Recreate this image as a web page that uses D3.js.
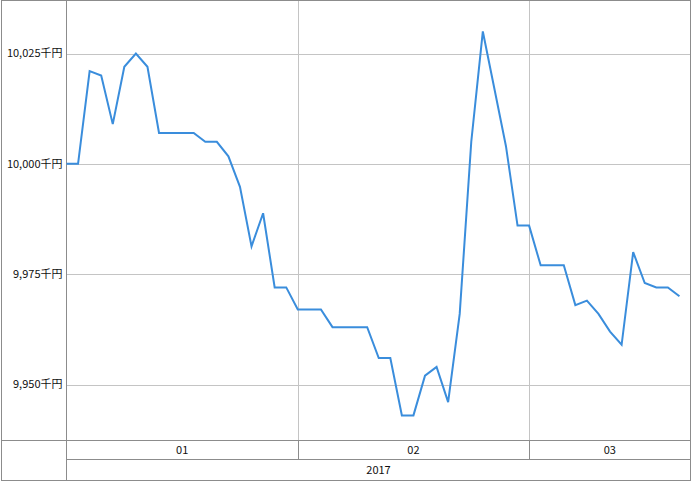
<!DOCTYPE html>
<html>
<head>
<meta charset="utf-8">
<script src="https://cdn.jsdelivr.net/npm/d3@7"></script>
<style>
  body { margin: 0; background: #fff; }
  svg { display: block; }
  text { font-family: "MS UI Gothic", "Noto Sans CJK JP", sans-serif; font-size: 11px; fill: #111; }
</style>
</head>
<body>
<svg></svg>
<script>
var width = 691;
var height = 482;

// daily values, 2017-01 .. 2017-03
var values = [
  10000, 10000, 10021, 10020, 10009, 10022, 10025, 10022, 10007, 10007,
  10007, 10007, 10005, 10005, 10001.7, 9994.8, 9981.3, 9988.8, 9972, 9972,
  9967, 9967, 9967, 9963, 9963, 9963, 9963, 9956, 9956, 9943,
  9943, 9952, 9954, 9946, 9966, 10005, 10030, 10017, 10004, 9986,
  9986, 9977, 9977, 9977, 9968, 9969, 9966, 9962, 9959, 9980,
  9973, 9972, 9972, 9970
];
var monthLabels = ["01", "02", "03"];
var monthStarts = [0, 20, 40];
var yearLabel = "2017";
var yTicks = [9950, 9975, 10000, 10025];

var left = 66.5, right = 690.5, plotBottom = 440.5, row1 = 459.5, bottom = 480.5;

var x = d3.scaleLinear()
    .domain([0, values.length])
    .range([left, right + 0.5]);

var y = d3.scaleLinear()
    .domain([9950, 10025])
    .range([384.5, 53.5]);

var svg = d3.select("svg")
    .attr("width", width)
    .attr("height", height);

svg.append("rect")
    .attr("width", width)
    .attr("height", height)
    .attr("fill", "#fff");

// horizontal grid
svg.append("g")
  .selectAll("line")
  .data(yTicks)
  .enter()
  .append("line")
    .attr("x1", left)
    .attr("x2", right)
    .attr("y1", d => Math.round(y(d)) + 0.5)
    .attr("y2", d => Math.round(y(d)) + 0.5)
    .attr("stroke", "#c4c4c4");

// vertical grid at month starts
svg.append("g")
  .selectAll("line")
  .data(monthStarts.slice(1))
  .enter()
  .append("line")
    .attr("x1", d => Math.round(x(d)) + 0.5)
    .attr("x2", d => Math.round(x(d)) + 0.5)
    .attr("y1", 0)
    .attr("y2", plotBottom)
    .attr("stroke", "#c4c4c4");

// month separators in the axis band
svg.append("g")
  .selectAll("line")
  .data(monthStarts.slice(1))
  .enter()
  .append("line")
    .attr("x1", d => Math.round(x(d)) + 0.5)
    .attr("x2", d => Math.round(x(d)) + 0.5)
    .attr("y1", plotBottom)
    .attr("y2", row1)
    .attr("stroke", "#8c8c8c");

// frame
svg.append("rect")
    .attr("x", 1.5)
    .attr("y", 0.5)
    .attr("width", right - 1.5)
    .attr("height", bottom - 0.5)
    .attr("fill", "none")
    .attr("stroke", "#8c8c8c");

svg.append("line")
    .attr("x1", left).attr("x2", left)
    .attr("y1", 0).attr("y2", bottom)
    .attr("stroke", "#8c8c8c");

svg.append("line")
    .attr("x1", 1.5).attr("x2", right)
    .attr("y1", plotBottom).attr("y2", plotBottom)
    .attr("stroke", "#8c8c8c");

svg.append("line")
    .attr("x1", left).attr("x2", right)
    .attr("y1", row1).attr("y2", row1)
    .attr("stroke", "#8c8c8c");

// y labels
svg.append("g")
  .selectAll("text")
  .data(yTicks)
  .enter()
  .append("text")
    .attr("x", left - 4)
    .attr("y", d => y(d))
    .attr("dy", "0.35em")
    .style("text-anchor", "end")
    .text(d => d3.format(",")(d) + "千円");

// month labels
var monthEnds = monthStarts.slice(1).concat([values.length]);
svg.append("g")
  .selectAll("text")
  .data(monthLabels)
  .enter()
  .append("text")
    .attr("x", (d, i) => (x(monthStarts[i]) + Math.min(x(monthEnds[i]), right)) / 2)
    .attr("y", (plotBottom + row1) / 2)
    .attr("dy", "0.35em")
    .style("text-anchor", "middle")
    .text(d => d);

svg.append("text")
    .attr("x", (left + right) / 2)
    .attr("y", (row1 + bottom) / 2)
    .attr("dy", "0.35em")
    .style("text-anchor", "middle")
    .text(yearLabel);

// series line
var line = d3.line()
    .x((d, i) => x(i))
    .y(d => y(d));

svg.append("path")
    .datum(values)
    .attr("fill", "none")
    .attr("stroke", "#3a8ddc")
    .attr("stroke-width", 2)
    .attr("stroke-linejoin", "miter")
    .attr("d", line);
</script>
</body>
</html>
